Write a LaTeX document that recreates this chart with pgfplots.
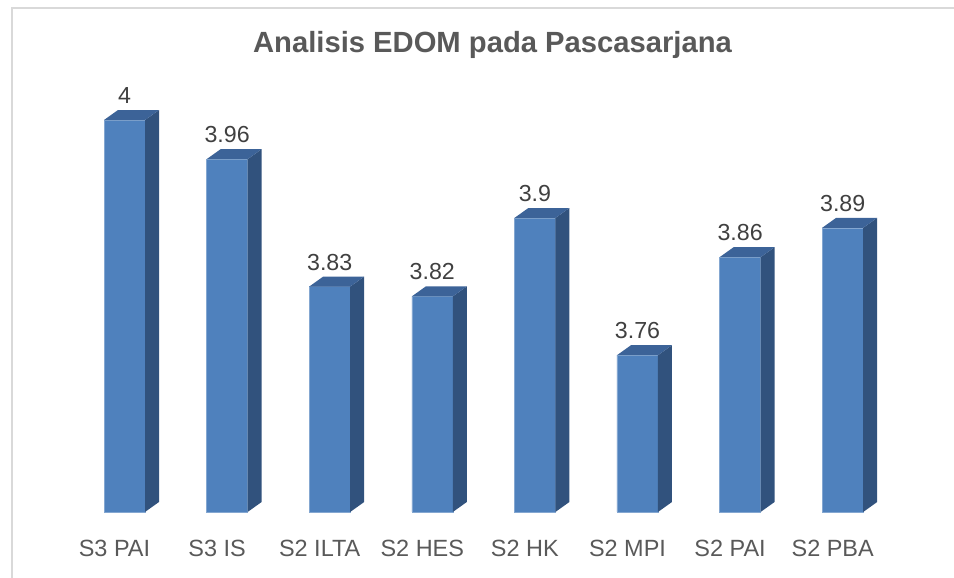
\documentclass[border=0pt]{standalone}
\usepackage{pgfplots}
\pgfplotsset{compat=1.18}
\usepackage{fontspec}
\setmainfont{Liberation Sans}
\definecolor{frontcol}{HTML}{4F81BD}
\definecolor{topcol}{HTML}{3C6398}
\definecolor{sidecol}{HTML}{31527D}
\definecolor{txtgray}{HTML}{595959}
\definecolor{lblgray}{HTML}{404040}
\definecolor{framecol}{HTML}{D9D9D9}
% 1 px = 0.75pt ; bar width 41px, depth 14px x 10px, y scale 735pt per unit
\pgfdeclareplotmark{side3d}{%
  \pgfmathsetlengthmacro\hh{(\rawy-3.6)*735}%
  \pgfpathmoveto{\pgfqpoint{15.375pt}{0pt}}%
  \pgfpathlineto{\pgfqpoint{25.875pt}{7.5pt}}%
  \pgfpathlineto{\pgfpoint{25.875pt}{-\hh+7.5pt}}%
  \pgfpathlineto{\pgfpoint{15.375pt}{-\hh}}%
  \pgfpathclose
  \pgfusepathqfill
}
\pgfdeclareplotmark{top3d}{%
  \pgfpathmoveto{\pgfqpoint{-15.375pt}{0pt}}%
  \pgfpathlineto{\pgfqpoint{15.375pt}{0pt}}%
  \pgfpathlineto{\pgfqpoint{25.875pt}{7.5pt}}%
  \pgfpathlineto{\pgfqpoint{-4.875pt}{7.5pt}}%
  \pgfpathclose
  \pgfusepathqfill
}
\pgfplotstableread{
x v
0 4
1 3.96
2 3.83
3 3.82
4 3.9
5 3.76
6 3.86
7 3.89
}\edomdata
\begin{document}
\begin{tikzpicture}
\path[use as bounding box] (0,0) rectangle (715.5pt,433.5pt);
\draw[framecol, line width=1.1pt] (9pt,0) -- (9pt,427.5pt) -- (715.5pt,427.5pt);
\node[anchor=base, font=\fontsize{21.9}{26}\selectfont\bfseries, text=txtgray] at (369.4pt,393.75pt) {Analisis EDOM pada Pascasarjana};
\begin{axis}[
  at={(54.9pt,49.5pt)}, anchor=south west,
  scale only axis,
  width=615.6pt, height=367.5pt,
  xmin=-0.5, xmax=7.5, ymin=3.6, ymax=4.1,
  axis line style={draw=none},
  major tick length=0pt,
  ytick=\empty,
  xtick={0,...,7},
  xticklabels={S3 PAI, S3 IS, S2 ILTA, S2 HES, S2 HK, S2 MPI, S2 PAI, S2 PBA},
  xticklabel style={anchor=base, yshift=-33.5pt, xshift=-7.5pt, font=\fontsize{17.6}{21}\selectfont, text=txtgray, inner sep=0pt},
  clip=false,
]
\addplot[scatter, only marks, mark=side3d,
  visualization depends on={rawy \as \rawy},
  scatter/use mapped color={draw=none, fill=sidecol}] table[x=x, y=v] {\edomdata};
\addplot[scatter, only marks, mark=top3d,
  scatter/use mapped color={draw=none, fill=topcol}] table[x=x, y=v] {\edomdata};
\addplot[ybar, bar width=30.75pt, fill=frontcol, draw=frontcol!70!white, line width=0.4pt,
  nodes near coords={\pgfmathprintnumber[assume math mode=true]{\pgfplotspointmeta}},
  every node near coord/.append style={anchor=base, yshift=12.4pt, font=\fontsize{17.4}{21}\selectfont, text=lblgray, inner sep=0pt}
  ] table[x=x, y=v] {\edomdata};
\end{axis}
\end{tikzpicture}
\end{document}
